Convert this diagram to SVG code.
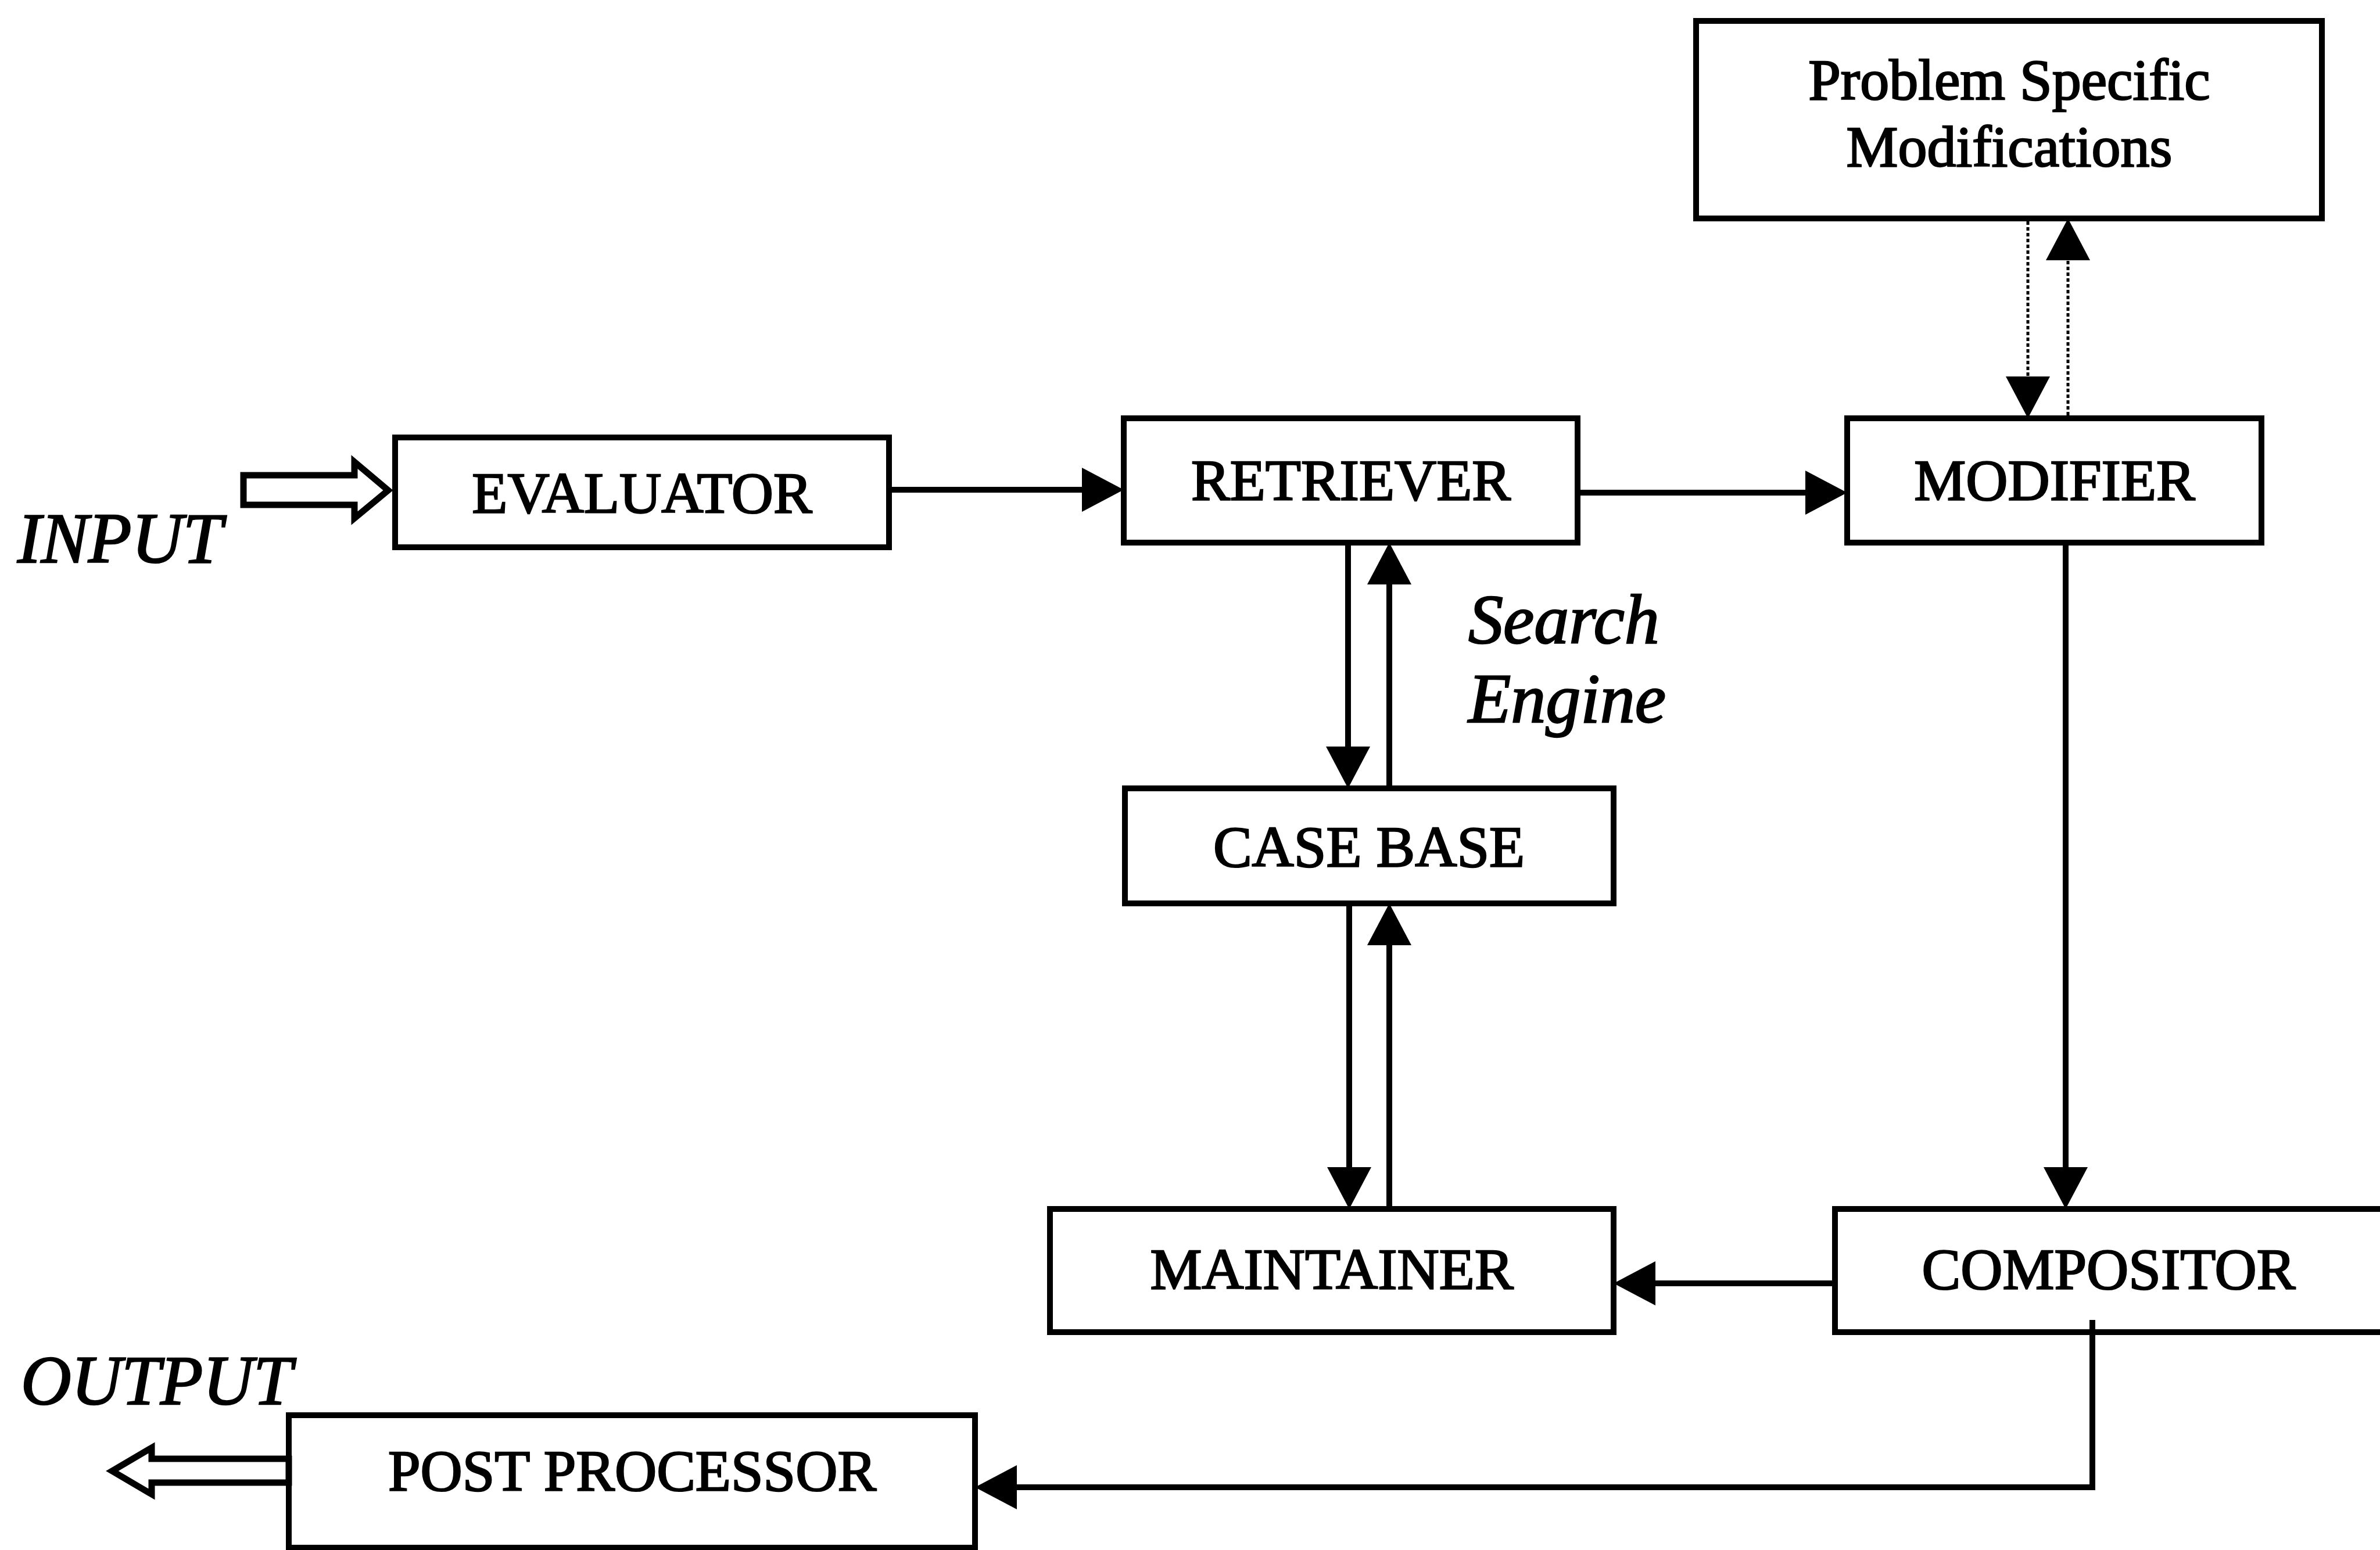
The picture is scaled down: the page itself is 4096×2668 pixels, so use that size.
<svg xmlns="http://www.w3.org/2000/svg" width="4096" height="2668" viewBox="0 0 4096 2668">
  <style>
    .box { fill: #fff; stroke: #000; stroke-width: 10; }
    .lbl { font-family: "Liberation Serif", "Times New Roman", serif; font-size: 100px; fill: #000; stroke: #000; stroke-width: 2.5; text-anchor: middle; }
    .ital { font-family: "Liberation Serif", "Times New Roman", serif; font-style: italic; fill: #000; stroke: #000; stroke-width: 2.5; }
    .wire { fill: none; stroke: #000; stroke-width: 10; }
    .dots { fill: none; stroke: #000; stroke-width: 5; stroke-dasharray: 6 4; }
    .hollow { fill: #fff; stroke: #000; stroke-width: 11; stroke-linejoin: miter; }
  </style>
  <defs>
    <marker id="head" markerUnits="userSpaceOnUse" markerWidth="80" markerHeight="80" refX="60" refY="38" orient="auto">
      <path d="M0,0 L72,38 L0,76 Z" fill="#000"/>
    </marker>
  </defs>
  <rect width="4096" height="2668" fill="#fff"/>

  <!-- external input / output labels -->
  <text class="ital" x="30" y="968" font-size="122">INPUT</text>
  <text class="ital" x="36" y="2417" font-size="120">OUTPUT</text>
  <text class="ital" x="2527" y="1107" font-size="120">Search</text>
  <text class="ital" x="2527" y="1243" font-size="120">Engine</text>

  <g id="problem-specific">
    <rect class="box" x="2919" y="36" width="1077" height="340"/>
    <text class="lbl" x="3458" y="171">Problem Specific</text>
    <text class="lbl" x="3458" y="286">Modifications</text>
  </g>
  <g id="evaluator">
    <rect class="box" x="680" y="753" width="850" height="189"/>
    <text class="lbl" x="1105" y="882">EVALUATOR</text>
  </g>
  <g id="retriever">
    <rect class="box" x="1934" y="720" width="781" height="214"/>
    <text class="lbl" x="2325" y="860">RETRIEVER</text>
  </g>
  <g id="modifier">
    <rect class="box" x="3179" y="720" width="713" height="214"/>
    <text class="lbl" x="3536" y="860">MODIFIER</text>
  </g>
  <g id="case-base">
    <rect class="box" x="1936" y="1357" width="841" height="198"/>
    <text class="lbl" x="2356" y="1491">CASE BASE</text>
  </g>
  <g id="maintainer">
    <rect class="box" x="1807" y="2081" width="970" height="212"/>
    <text class="lbl" x="2292" y="2218">MAINTAINER</text>
  </g>
  <g id="compositor">
    <rect class="box" x="3158" y="2081" width="960" height="212"/>
    <text class="lbl" x="3629" y="2218">COMPOSITOR</text>
  </g>
  <g id="post-processor">
    <rect class="box" x="497" y="2436" width="1181" height="228"/>
    <text class="lbl" x="1088" y="2565">POST PROCESSOR</text>
  </g>

  <g id="connectors">
    <!-- input / output block arrows -->
    <polygon class="hollow" points="419,818 610,818 610,795 668,844 610,892 610,869 419,869"/>
    <polygon class="hollow" points="497,2511 261,2511 261,2492 193,2532 261,2572 261,2552 497,2552"/>

    <!-- main flow -->
    <line class="wire" x1="1535" y1="843" x2="1922" y2="843" marker-end="url(#head)"/>
    <line class="wire" x1="2720" y1="848" x2="3167" y2="848" marker-end="url(#head)"/>

    <!-- retriever <-> case base -->
    <line class="wire" x1="2320" y1="939" x2="2320" y2="1345" marker-end="url(#head)"/>
    <line class="wire" x1="2391" y1="1352" x2="2391" y2="946" marker-end="url(#head)"/>

    <!-- case base <-> maintainer -->
    <line class="wire" x1="2322" y1="1560" x2="2322" y2="2069" marker-end="url(#head)"/>
    <line class="wire" x1="2391" y1="2076" x2="2391" y2="1567" marker-end="url(#head)"/>

    <!-- modifier -> compositor -> maintainer -->
    <line class="wire" x1="3555" y1="939" x2="3555" y2="2069" marker-end="url(#head)"/>
    <line class="wire" x1="3153" y1="2209" x2="2789" y2="2209" marker-end="url(#head)"/>

    <!-- compositor -> post processor -->
    <path class="wire" d="M3601,2272 L3601,2560 L1690,2560" marker-end="url(#head)"/>

    <!-- modifier <-> problem specific modifications (dotted) -->
    <line class="dots" x1="3490" y1="381" x2="3490" y2="708" marker-end="url(#head)"/>
    <line class="dots" x1="3559" y1="715" x2="3559" y2="388" marker-end="url(#head)"/>
  </g>
</svg>
